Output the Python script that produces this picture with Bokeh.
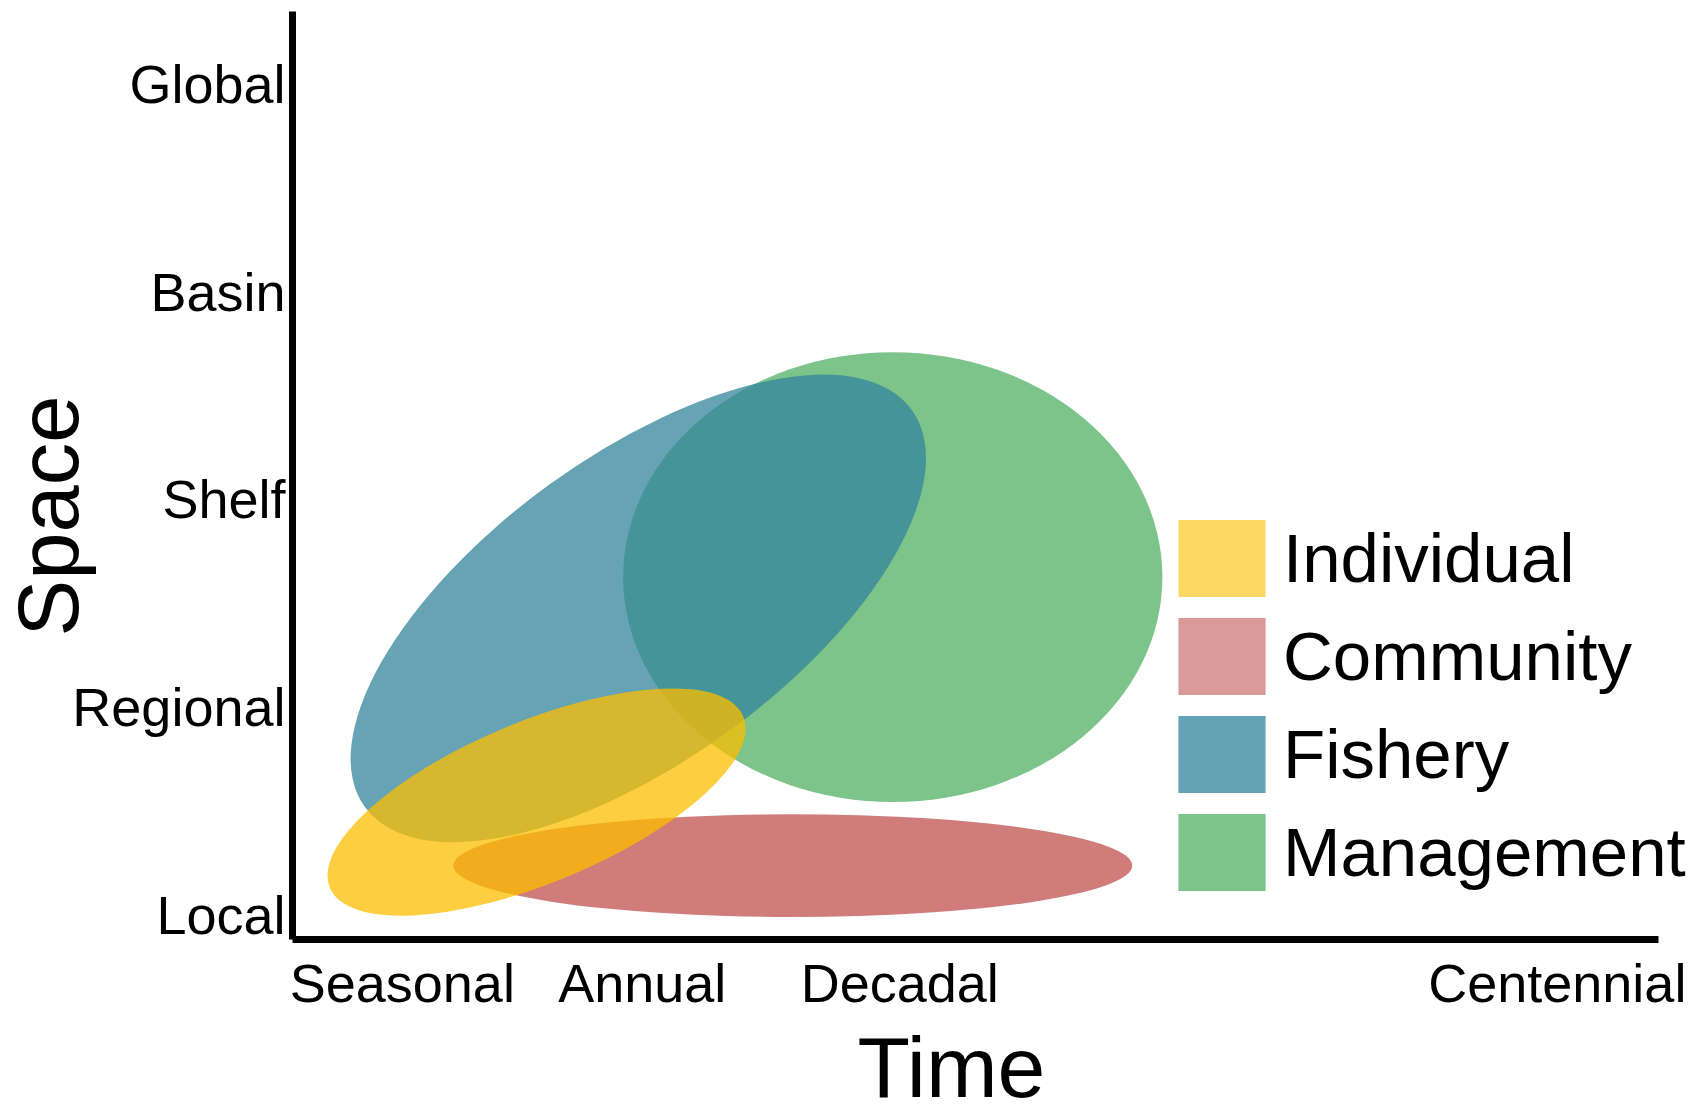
import math
from bokeh.plotting import figure
from bokeh.models import (ColumnDataSource, FixedTicker, Range1d, Legend, LegendItem, Title)
from bokeh.embed import file_html
from bokeh.resources import INLINE

# ---- data ----
groups = ["Individual", "Community", "Fishery", "Management"]
x_center = [1.537, 2.562, 1.944, 2.962]
y_center = [1.542, 1.236, 2.475, 2.626]
ell_width = [1.790, 2.716, 2.703, 2.157]
ell_height = [0.779, 0.495, 1.470, 2.168]
ell_angle_deg = [22.5, 0.0, 36.0, 0.0]

ellipse_colors = ["#FCBE00", "#C0504E", "#32849C", "#52B063"]
legend_colors = ["#FDD865", "#DA9A9A", "#64A3B5", "#7DC48A"]

time_ticks = [1.0, 1.96, 2.99, 5.62]
time_labels = ["Seasonal", "Annual", "Decadal", "Centennial"]
space_ticks = [1, 2, 3, 4, 5]
space_labels = ["Local", "Regional", "Shelf", "Basin", "Global"]

X_START, X_AXIS_END, X_END = 0.5608, 6.0248, 6.1848
Y_START, Y_END = 0.8797, 5.3514

FONT = "Liberation Sans"

p = figure(width=1698, height=1115, output_backend="svg", toolbar_location=None,
           x_range=Range1d(X_START, X_END), y_range=Range1d(Y_START, Y_END),
           min_border_left=292, min_border_right=0, min_border_top=11,
           min_border_bottom=175)
p.title.visible = False
p.outline_line_color = None
p.grid.visible = False
p.background_fill_color = "white"
p.border_fill_color = "white"

# ellipses: drawn Management first, Individual last (on top)
order = [3, 1, 2, 0]
for i in order:
    src = ColumnDataSource(dict(x=[x_center[i]], y=[y_center[i]], w=[ell_width[i]],
                                h=[ell_height[i]], a=[math.radians(ell_angle_deg[i])]))
    p.ellipse(x="x", y="y", width="w", height="h", angle="a", source=src,
              fill_color=ellipse_colors[i], fill_alpha=0.75, line_color=None)

# legend with square keys (zero-size swatch glyphs at each ellipse centre)
items = []
for i, g in enumerate(groups):
    r = p.rect(x=[x_center[i]], y=[y_center[i]], width=0, height=0,
               fill_color=legend_colors[i], fill_alpha=1.0, line_color=None)
    items.append(LegendItem(label=g, renderers=[r]))
legend = Legend(items=items, location=(875, 39), orientation="vertical",
                glyph_width=109, glyph_height=96, spacing=2, padding=0, margin=0,
                label_standoff=7, label_text_font_size="69px", label_text_font=FONT,
                label_text_color="black", border_line_color=None,
                background_fill_alpha=0)
p.add_layout(legend)

# axes
for ax in (p.xaxis[0], p.yaxis[0]):
    ax.axis_line_width = 7
    ax.axis_line_color = "black"
    ax.major_tick_line_color = None
    ax.minor_tick_line_color = None
    ax.major_tick_out = 0
    ax.major_tick_in = 0
    ax.major_label_text_font = FONT
    ax.major_label_text_font_size = "54px"
    ax.major_label_text_color = "black"

p.xaxis.ticker = FixedTicker(ticks=time_ticks)
p.xaxis.major_label_overrides = {t: l for t, l in zip(time_ticks, time_labels)}
p.xaxis.major_label_standoff = 13
p.xaxis.bounds = (X_START, X_AXIS_END)
p.yaxis.ticker = FixedTicker(ticks=space_ticks)
p.yaxis.major_label_overrides = {t: l for t, l in zip(space_ticks, space_labels)}
p.yaxis.major_label_standoff = 7

# axis titles
p.add_layout(Title(text="Space", align="left", offset=303, standoff=-52,
                   vertical_align="bottom", text_font=FONT, text_font_size="85px",
                   text_font_style="normal", text_color="black"), "left")
p.add_layout(Title(text="Time", align="left", offset=565, standoff=2,
                   vertical_align="bottom", text_font=FONT, text_font_size="86px",
                   text_font_style="normal", text_color="black"), "below")

open("out.html", "w").write(file_html(p, INLINE))
